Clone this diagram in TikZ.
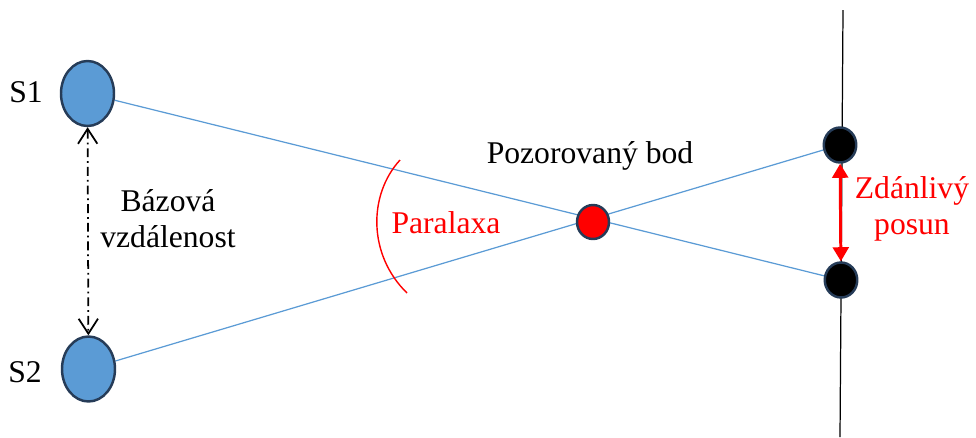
\documentclass[tikz,border=0pt]{standalone}
\usepackage{fontspec}
\setmainfont{Liberation Serif}
\usetikzlibrary{shapes.geometric,arrows.meta,backgrounds}
\definecolor{stationblue}{RGB}{91,155,213}
\definecolor{edgenavy}{RGB}{38,60,88}
\tikzstyle{station} = [ellipse, inner sep=0, minimum width=1.06cm, minimum height=1.3cm, fill=stationblue, draw=edgenavy, line width=1.4pt]
\tikzstyle{dot} = [ellipse, inner sep=0, minimum width=0.65cm, minimum height=0.7cm, draw=edgenavy, line width=1.4pt]
\tikzstyle{ray} = [stationblue, line width=0.7pt]
\tikzstyle{label} = [font=\fontsize{18}{20.5}\selectfont, align=center]

\begin{document}
\begin{tikzpicture}[x=0.02cm, y=-0.02cm]
\useasboundingbox (0,0) rectangle (976,437);

    % Stations
    \node (s1) at (87.5,93.5) [station] {};
    \node (s2) at (88.5,369) [station] {};
    \node at (26,102) [label, anchor=base] {S1};
    \node at (25,382) [label, anchor=base] {S2};

    % Base distance
    \draw[dash pattern=on 5pt off 2.3pt on 1pt off 2.3pt, line width=1pt, {Straight Barb[length=8.5pt,width=11pt]}-{Straight Barb[length=8.5pt,width=11pt]}] (s1) -- (s2);
    \node at (168,219) [label] {Bázová\\vzdálenost};

    % Observed point
    \node (bod) at (593,222) [dot, fill=red, minimum width=0.64cm, minimum height=0.68cm] {};
    \node at (590,163) [label, anchor=base] {Pozorovaný bod};

    % Screen with shifted images
    \coordinate (top) at (843,10);
    \coordinate (bottom) at (840,437);
    \node (p1) at (840,145) [dot, fill=black] {};
    \node (p2) at (841,280) [dot, fill=black] {};

    \begin{scope}[on background layer]
    \draw[ray] (s1) -- (p2);
    \draw[ray] (s2) -- (p1);
    \draw[line width=0.7pt] (top) -- (bottom);
    \end{scope}

    \draw[red, line width=1.7pt, {Triangle[length=8pt,width=9pt]}-{Triangle[length=8pt,width=9pt]}] (p1) -- (p2);
    \node[label, text=red] at (912,209) {Zdánlivý\\posun};

    % Parallax angle
    \draw[red, line width=0.8pt] (400,160) .. controls (368,195) and (368,255) .. (407,293);
    \node at (446,233) [label, anchor=base, text=red] {Paralaxa};

\end{tikzpicture}
\end{document}
